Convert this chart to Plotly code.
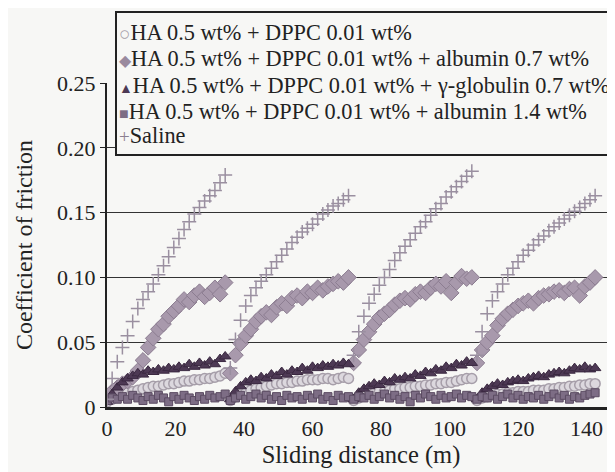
import plotly.graph_objects as go

# sliding distance (m), four 36 m runs
distance = [
    0, 1.5, 3, 4.5, 6, 7.5, 9, 10.5, 12, 13.5, 15, 16.5, 18, 19.5, 21, 22.5, 24, 25.5, 27, 28.5, 30, 31.5, 33, 34.5,
    36, 37.5, 39, 40.5, 42, 43.5, 45, 46.5, 48, 49.5, 51, 52.5, 54, 55.5, 57, 58.5, 60, 61.5, 63, 64.5, 66, 67.5, 69, 70.5,
    72, 73.5, 75, 76.5, 78, 79.5, 81, 82.5, 84, 85.5, 87, 88.5, 90, 91.5, 93, 94.5, 96, 97.5, 99, 100.5, 102, 103.5, 105, 106.5,
    108, 109.5, 111, 112.5, 114, 115.5, 117, 118.5, 120, 121.5, 123, 124.5, 126, 127.5, 129, 130.5, 132, 133.5, 135, 136.5, 138, 139.5, 141, 142.5,
]

ha_dppc = [
    0.004, 0.006, 0.008, 0.009, 0.011, 0.012, 0.013, 0.014, 0.015, 0.016, 0.016, 0.017, 0.018, 0.018, 0.019, 0.020, 0.020, 0.021, 0.021, 0.022, 0.022, 0.023, 0.024, 0.026,
    0.005, 0.008, 0.010, 0.011, 0.013, 0.014, 0.015, 0.016, 0.017, 0.018, 0.018, 0.019, 0.019, 0.020, 0.020, 0.021, 0.021, 0.021, 0.022, 0.022, 0.021, 0.022, 0.023, 0.022,
    0.005, 0.007, 0.009, 0.010, 0.011, 0.012, 0.012, 0.013, 0.014, 0.014, 0.015, 0.015, 0.016, 0.016, 0.017, 0.017, 0.018, 0.018, 0.019, 0.019, 0.020, 0.021, 0.022, 0.022,
    0.005, 0.007, 0.008, 0.009, 0.010, 0.010, 0.011, 0.011, 0.012, 0.012, 0.012, 0.013, 0.013, 0.013, 0.014, 0.014, 0.015, 0.015, 0.016, 0.016, 0.017, 0.017, 0.018, 0.018,
]

albumin_07 = [
    0.008, 0.012, 0.015, 0.018, 0.020, 0.023, 0.028, 0.036, 0.046, 0.053, 0.060, 0.064, 0.070, 0.074, 0.078, 0.083, 0.081, 0.086, 0.089, 0.085, 0.088, 0.092, 0.087, 0.096,
    0.026, 0.040, 0.049, 0.055, 0.060, 0.066, 0.070, 0.073, 0.071, 0.077, 0.080, 0.078, 0.084, 0.086, 0.084, 0.089, 0.088, 0.092, 0.090, 0.093, 0.095, 0.097, 0.096, 0.100,
    0.034, 0.044, 0.052, 0.058, 0.064, 0.069, 0.072, 0.075, 0.079, 0.082, 0.084, 0.083, 0.087, 0.089, 0.088, 0.092, 0.095, 0.093, 0.097, 0.088, 0.096, 0.101, 0.099, 0.100,
    0.034, 0.044, 0.050, 0.055, 0.063, 0.068, 0.072, 0.075, 0.078, 0.080, 0.082, 0.080, 0.084, 0.086, 0.087, 0.089, 0.090, 0.088, 0.091, 0.092, 0.086, 0.093, 0.096, 0.100,
]

globulin_07 = [
    0.004, 0.010, 0.015, 0.019, 0.022, 0.024, 0.026, 0.025, 0.028, 0.027, 0.029, 0.028, 0.030, 0.029, 0.031, 0.030, 0.033, 0.031, 0.034, 0.032, 0.035, 0.033, 0.037, 0.039,
    0.006, 0.012, 0.016, 0.019, 0.021, 0.020, 0.023, 0.022, 0.025, 0.024, 0.027, 0.025, 0.028, 0.027, 0.030, 0.028, 0.031, 0.030, 0.032, 0.031, 0.033, 0.032, 0.034, 0.033,
    0.006, 0.011, 0.014, 0.016, 0.018, 0.017, 0.020, 0.019, 0.022, 0.021, 0.023, 0.022, 0.025, 0.024, 0.027, 0.026, 0.029, 0.028, 0.031, 0.030, 0.033, 0.032, 0.035, 0.034,
    0.006, 0.011, 0.014, 0.016, 0.018, 0.017, 0.019, 0.020, 0.021, 0.020, 0.022, 0.023, 0.024, 0.023, 0.025, 0.026, 0.027, 0.026, 0.028, 0.030, 0.029, 0.031, 0.029, 0.030,
]

albumin_14 = [
    0.005, 0.007, 0.006, 0.008, 0.006, 0.009, 0.007, 0.005, 0.008, 0.006, 0.009, 0.007, 0.004, 0.008, 0.006, 0.009, 0.007, 0.005, 0.008, 0.006, 0.009, 0.007, 0.008, 0.010,
    0.005, 0.007, 0.009, 0.006, 0.008, 0.010, 0.007, 0.009, 0.006, 0.008, 0.005, 0.009, 0.007, 0.008, 0.006, 0.009, 0.007, 0.010, 0.006, 0.008, 0.005, 0.009, 0.007, 0.008,
    0.006, 0.008, 0.007, 0.009, 0.006, 0.008, 0.010, 0.007, 0.009, 0.006, 0.008, 0.004, 0.009, 0.007, 0.010, 0.008, 0.006, 0.009, 0.007, 0.008, 0.010, 0.007, 0.009, 0.008,
    0.006, 0.008, 0.007, 0.009, 0.006, 0.008, 0.010, 0.007, 0.009, 0.006, 0.008, 0.007, 0.009, 0.006, 0.008, 0.010, 0.007, 0.009, 0.006, 0.008, 0.007, 0.009, 0.010, 0.011,
]

saline = [
    0.006, 0.022, 0.035, 0.046, 0.055, 0.066, 0.076, 0.083, 0.089, 0.095, 0.102, 0.109, 0.116, 0.123, 0.130, 0.137, 0.143, 0.149, 0.154, 0.159, 0.163, 0.167, 0.173, 0.179,
    0.030, 0.052, 0.067, 0.078, 0.086, 0.092, 0.097, 0.102, 0.107, 0.112, 0.117, 0.122, 0.127, 0.131, 0.135, 0.138, 0.141, 0.145, 0.149, 0.152, 0.155, 0.157, 0.160, 0.163,
    0.040, 0.058, 0.070, 0.080, 0.087, 0.094, 0.100, 0.106, 0.113, 0.119, 0.124, 0.129, 0.134, 0.139, 0.143, 0.148, 0.153, 0.157, 0.162, 0.166, 0.170, 0.174, 0.178, 0.182,
    0.040, 0.058, 0.072, 0.082, 0.089, 0.095, 0.102, 0.107, 0.112, 0.117, 0.121, 0.125, 0.129, 0.132, 0.136, 0.139, 0.142, 0.145, 0.148, 0.151, 0.154, 0.157, 0.160, 0.163,
]

names = [
    "HA 0.5 wt% + DPPC 0.01 wt%",
    "HA 0.5 wt% + DPPC 0.01 wt% + albumin 0.7 wt%",
    "HA 0.5 wt% + DPPC 0.01 wt% + γ-globulin 0.7 wt%",
    "HA 0.5 wt% + DPPC 0.01 wt% + albumin 1.4 wt%",
    "Saline",
]
legend_glyphs = ["○", "◆", "▲", "■", "+"]
y_ticks = [0, 0.05, 0.10, 0.15, 0.20, 0.25]
y_ticktext = ["0", "0.05", "0.10", "0.15", "0.20", "0.25"]
x_ticks = [0, 20, 40, 60, 80, 100, 120, 140]

FONT = "Liberation Serif"
BG = "#f7f7f5"
INK = "#222"

# the page puts the figure 8 px in from the top-left, so the figure is 8 px smaller
FIG_W, FIG_H = 607, 464
L, T, W, H = 99, 75, 508, 324

fig = go.Figure()

styles = [
    (ha_dppc, dict(symbol="circle", size=10, color="#dcd8de", line=dict(color="#a69ea9", width=1.5)), "#a69ea9", 19),
    (albumin_07, dict(symbol="diamond", size=12, color="#a899ac", line=dict(color="#8c7d91", width=1)), "#9a8a9e", 16),
    (globulin_07, dict(symbol="triangle-up", size=10, color="#4d3954", line=dict(color="#3a2840", width=1)), "#4d3954", 14),
    (albumin_14, dict(symbol="square", size=8, color="#7d6d85", line=dict(color="#5b4b62", width=1)), "#7d6d85", 16),
    (saline, dict(symbol="cross-thin", size=10, color="#9a8fa0", line=dict(color="#9a8fa0", width=1.5)), "#8a7f90", 19),
]

for name, (vals, mk, _, _) in zip(names, styles):
    fig.add_trace(go.Scatter(x=distance, y=vals, mode="markers", name=name, marker=mk, showlegend=False))

# boxed legend sitting over the top of the plot, running off the right edge
fig.add_shape(
    type="rect", xref="paper", yref="paper", layer="above",
    x0=(108 - L) / W, x1=(640 - L) / W, y0=(T + H - 147) / H, y1=(T + H - 4) / H,
    line=dict(color=INK, width=2), fillcolor=BG,
)
row_px = [25, 51, 77, 103, 128]
for name, glyph, (_, _, gcol, gsize), ry in zip(names, legend_glyphs, styles, row_px):
    fig.add_annotation(
        xref="paper", yref="paper", x=(109 - L) / W, y=(T + H - ry) / H,
        xanchor="left", yanchor="middle", showarrow=False,
        text=f'<span style="color:{gcol};font-size:{gsize}px">{glyph}</span>{name}',
        font=dict(family=FONT, size=22.3, color=INK),
    )

fig.update_layout(
    width=FIG_W, height=FIG_H,
    margin=dict(l=L, r=FIG_W - L - W, t=T, b=FIG_H - T - H),
    paper_bgcolor=BG, plot_bgcolor=BG,
    font=dict(family=FONT, size=22, color=INK),
    showlegend=False,
)

fig.update_xaxes(
    range=[0, 148.3], tickvals=x_ticks, showgrid=False, zeroline=False,
    showline=True, linecolor=INK, linewidth=2.5, ticks="", automargin=False,
    title=dict(text="Sliding distance (m)", font=dict(size=24.5), standoff=4),
)
fig.update_yaxes(
    range=[0, 0.25], tickvals=y_ticks, ticktext=y_ticktext,
    showgrid=True, gridcolor="#333", gridwidth=1, zeroline=False,
    showline=True, linecolor=INK, linewidth=2, ticks="outside", ticklen=5, tickcolor=INK,
    automargin=False,
    title=dict(text="Coefficient of friction", font=dict(size=24), standoff=18),
)

fig.write_html("out.html")
